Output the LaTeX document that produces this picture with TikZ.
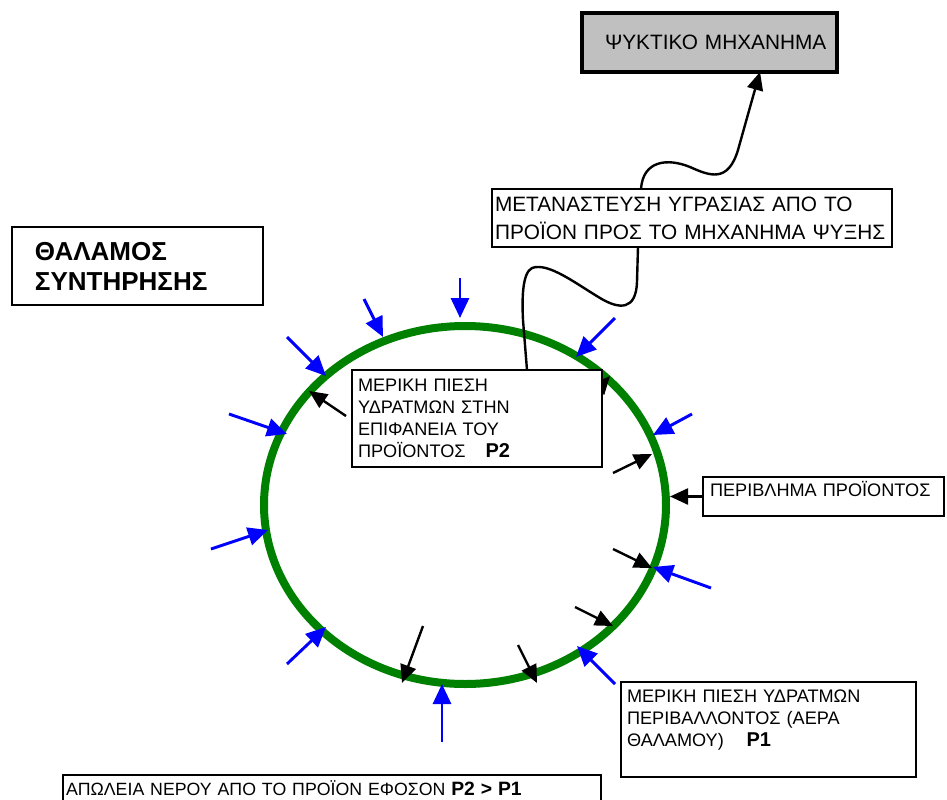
\documentclass[tikz,border=0pt]{standalone}
\usepackage{fontspec}
\setmainfont{Liberation Sans}
\usetikzlibrary{arrows.meta,shapes.geometric}

\definecolor{ringgreen}{RGB}{0,128,0}
\definecolor{boxgray}{RGB}{192,192,192}

\newcommand{\pbig}[1]{{\fontsize{15}{16.5}\selectfont\bfseries #1}}

\tikzset{
	box/.style={draw,fill=white,line width=1.5pt,rectangle,anchor=north west,align=left,outer sep=0pt,inner ysep=0pt},
	bigtext/.style={font=\fontsize{15.6}{21}\selectfont},
	smalltext/.style={font=\fontsize{13.6}{16.5}\selectfont},
	inarrow/.style={draw=blue,line width=2.2pt,-{Triangle[length=15pt,width=13.5pt]}},
	outarrow/.style={draw=black,line width=1.8pt,-{Triangle[length=13.5pt,width=12pt]}},
	wave/.style={draw=black,line width=1.8pt},
}

\begin{document}
\begin{tikzpicture}[x=0.75pt,y=-0.75pt]
	\useasboundingbox (0,0) rectangle (947,800);
	\clip (0,0) rectangle (947,800);

	% product skin
	\node[ellipse,draw=ringgreen,line width=6pt,minimum width=301.5pt,minimum height=268.5pt,inner sep=0pt] (shell) at (465,505) {};

	% vapour from the room air
	\draw[inarrow] (460,278) -- (460,318);
	\draw[inarrow] (364,299) -- (383,337);
	\draw[inarrow] (287,337) -- (326,376);
	\draw[inarrow] (229,414) -- (287,434);
	\draw[inarrow] (211,549) -- (268,530);
	\draw[inarrow] (287,664) -- (326,627);
	\draw[inarrow] (442,742) -- (442,684);
	\draw[inarrow] (615,684) -- (577,646);
	\draw[inarrow] (711,588) -- (653,567);
	\draw[inarrow] (692,414) -- (653,435);
	\draw[inarrow] (615,318) -- (576,357);

	% vapour from the product
	\draw[outarrow] (346,416) -- (309,391);
	\draw[outarrow] (585,404) -- (610,376);
	\draw[outarrow] (613,473) -- (652,454);
	\draw[outarrow] (613,549) -- (652,568);
	\draw[outarrow] (575,607) -- (613,626);
	\draw[outarrow] (518,645) -- (537,683);
	\draw[outarrow] (423,626) -- (402,683);

	% boxes
	\node[box,fill=boxgray,line width=3pt,bigtext,minimum height=44.25pt,inner xsep=17.25pt,text width=156.75pt] (cooler) at (582,13) {ΨΥΚΤΙΚΟ~ΜΗΧΑΝΗΜΑ};
	\node[box,bigtext,minimum height=43.5pt,inner xsep=2.25pt,text width=295.5pt] (migr) at (492,189) {ΜΕΤΑΝΑΣΤΕΥΣΗ ΥΓΡΑΣΙΑΣ ΑΠΟ ΤΟ\\ΠΡΟΪΟΝ~ΠΡΟΣ~ΤΟ~ΜΗΧΑΝΗΜΑ~ΨΥΞΗΣ};
	\node[box,font=\fontsize{19.5}{22.5}\selectfont\bfseries,minimum height=58.5pt,inner xsep=17.25pt,text width=153.75pt] (room) at (12,227) {ΘΑΛΑΜΟΣ\\ΣΥΝΤΗΡΗΣΗΣ};
	\node[box,smalltext,minimum height=72.75pt,inner xsep=4.5pt,text width=178.5pt] (ppart) at (352,370) {ΜΕΡΙΚΗ ΠΙΕΣΗ\\ΥΔΡΑΤΜΩΝ ΣΤΗΝ\\ΕΠΙΦΑΝΕΙΑ ΤΟΥ\\ΠΡΟΪΟΝΤΟΣ\hspace{15pt}\pbig{P2}};
	\node[box,smalltext,minimum height=29.25pt,text depth=11pt,inner xsep=5.25pt,text width=170.25pt] (skin) at (703,477) {ΠΕΡΙΒΛΗΜΑ~ΠΡΟΪΟΝΤΟΣ};
	\node[box,smalltext,minimum height=71.25pt,inner xsep=4.5pt,text width=212.25pt] (penv) at (621,682) {ΜΕΡΙΚΗ ΠΙΕΣΗ ΥΔΡΑΤΜΩΝ\\ΠΕΡΙΒΑΛΛΟΝΤΟΣ (ΑΕΡΑ\\ΘΑΛΑΜΟΥ)\hspace{17pt}\pbig{P1}\\\mbox{}};
	\node[box,font=\fontsize{13.3}{16.5}\selectfont,minimum height=19.5pt,inner xsep=2.25pt,text width=399pt] (loss) at (63,775) {ΑΠΩΛΕΙΑ ΝΕΡΟΥ ΑΠΟ ΤΟ ΠΡΟΪΟΝ ΕΦΟΣΟΝ {\fontsize{14.5}{16.5}\selectfont\bfseries P2 > P1}};

	% connectors
	\draw[outarrow] (skin.west) -- (skin.west -| shell.east);
	\draw[wave,-{Triangle[length=13.5pt,width=12pt]}] ([xshift=-38.25pt]migr.north) .. controls (643,160) and (668,158) .. (690,167) .. controls (710,176) and (728,183) .. (738,150) .. controls (745,125) and (752,100) .. ([xshift=37.9pt]cooler.south);
	\draw[wave] ([xshift=-40.5pt]migr.south) -- (637,282) .. controls (636,310) and (620,310) .. (600,298) .. controls (575,283) and (548,262) .. (532,268) .. controls (522,273) and (522,300) .. (523,320) -- ([xshift=37.5pt]ppart.north);

\end{tikzpicture}
\end{document}
